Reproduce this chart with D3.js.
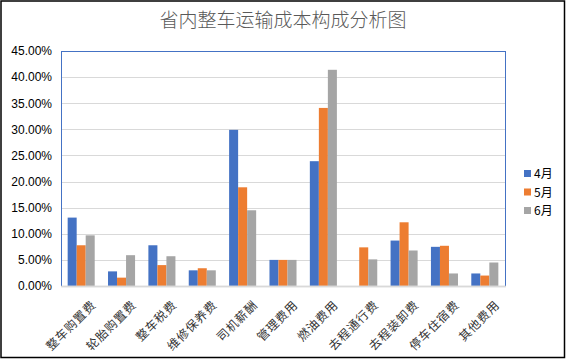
<!DOCTYPE html>
<html><head><meta charset="utf-8">
<script src="https://cdn.jsdelivr.net/npm/d3@7/dist/d3.min.js"></script>
<style>body{margin:0;background:#fff}svg{display:block}</style>
</head><body>
<script>
const categories = ["整车购置费","轮胎购置费","整车税费","维修保养费","司机薪酬","管理费用","燃油费用","去程通行费","去程装卸费","停车住宿费","其他费用"];
const seriesNames = ["4月","5月","6月"];
const apr = [0.131,0.028,0.078,0.030,0.299,0.050,0.239,0.000,0.087,0.075,0.024];
const may = [0.078,0.016,0.040,0.034,0.189,0.050,0.341,0.074,0.122,0.077,0.020];
const jun = [0.097,0.059,0.057,0.030,0.145,0.050,0.414,0.051,0.068,0.024,0.045];
const yTicks = [0,0.05,0.10,0.15,0.20,0.25,0.30,0.35,0.40,0.45];
const colors = ["#4472C4","#ED7D31","#A5A5A5"];
const title = "省内整车运输成本构成分析图";

const W=566,H=359;
const m={left:61,top:51,right:505,bottom:286};
const svg=d3.select("body").append("svg").attr("width",W).attr("height",H);
svg.append("rect").attr("x",0).attr("y",0).attr("width",W).attr("height",H).attr("fill","#fff");
svg.append("rect").attr("x",1).attr("y",1).attr("width",W-2.5).attr("height",H-2.5)
  .attr("fill","none").attr("stroke","#000").attr("stroke-width",1.5);

svg.append("text").attr("x",283).attr("y",27).attr("text-anchor","middle")
  .attr("font-family","Noto Sans CJK SC").attr("font-size",19).attr("font-weight",300).attr("fill","#595959").text(title);

const y=d3.scaleLinear().domain([0,0.45]).range([m.bottom,m.top]);
const x0=d3.scaleBand().domain(categories).range([m.left,m.right]).paddingInner(0.33).paddingOuter(0.165);
const x1=d3.scaleBand().domain(seriesNames).range([0,x0.bandwidth()]);

// gridlines
svg.append("g").selectAll("line").data(yTicks.slice(1)).join("line")
  .attr("x1",m.left).attr("x2",m.right).attr("y1",d=>Math.round(y(d))+0.5).attr("y2",d=>Math.round(y(d))+0.5)
  .attr("stroke","#D9D9D9").attr("stroke-width",1);

// y axis labels
const yAxis=d3.axisLeft(y).tickValues(yTicks).tickFormat(d3.format(".2%")).tickSize(0).tickPadding(9);
const ga=svg.append("g").attr("transform",`translate(${m.left},0)`).call(yAxis);
ga.select(".domain").remove();
ga.selectAll("text").attr("font-family","Liberation Sans").attr("font-size",12).attr("fill","#000");

// bars
const data=[apr,may,jun];
const g=svg.append("g");
categories.forEach((c,i)=>{
  seriesNames.forEach((s,j)=>{
    const v=data[j][i];
    g.append("rect").attr("x",x0(c)+x1(s)).attr("width",x1.bandwidth())
      .attr("y",y(v)).attr("height",y(0)-y(v)).attr("fill",colors[j]);
  });
});

// x axis
const xAxis=d3.axisBottom(x0).tickSize(0).tickPadding(8);
const gx=svg.append("g").attr("transform",`translate(0,${m.bottom})`).call(xAxis);
gx.select(".domain").attr("stroke","#D9D9D9").attr("stroke-width",1.5);
gx.selectAll("text").attr("font-family","Noto Sans CJK SC").attr("font-size",12).attr("fill","#333")
  .attr("text-anchor","end").attr("dy","0.35em").attr("letter-spacing","0.9px")
  .attr("transform",function(){return "translate(7,11) rotate(-45)";});

// plot border (blue)
svg.append("rect").attr("x",m.left+0.5).attr("y",m.top+0.5).attr("width",m.right-m.left).attr("height",m.bottom-m.top)
  .attr("fill","none").attr("stroke","#4472C4").attr("stroke-width",1);
svg.append("line").attr("x1",m.left).attr("x2",m.right+1).attr("y1",m.bottom+0.5).attr("y2",m.bottom+0.5)
  .attr("stroke","#D9D9D9").attr("stroke-width",1.5);

// legend
const lg=svg.append("g");
seriesNames.forEach((s,j)=>{
  const yy=174+j*18.5;
  lg.append("rect").attr("x",524).attr("y",yy-4).attr("width",7).attr("height",7).attr("fill",colors[j]);
  lg.append("text").attr("x",534).attr("y",yy).attr("dy","0.35em").attr("font-family","Noto Sans CJK SC")
    .attr("font-size",12).attr("fill","#000").text(s);
});
</script>
</body></html>
